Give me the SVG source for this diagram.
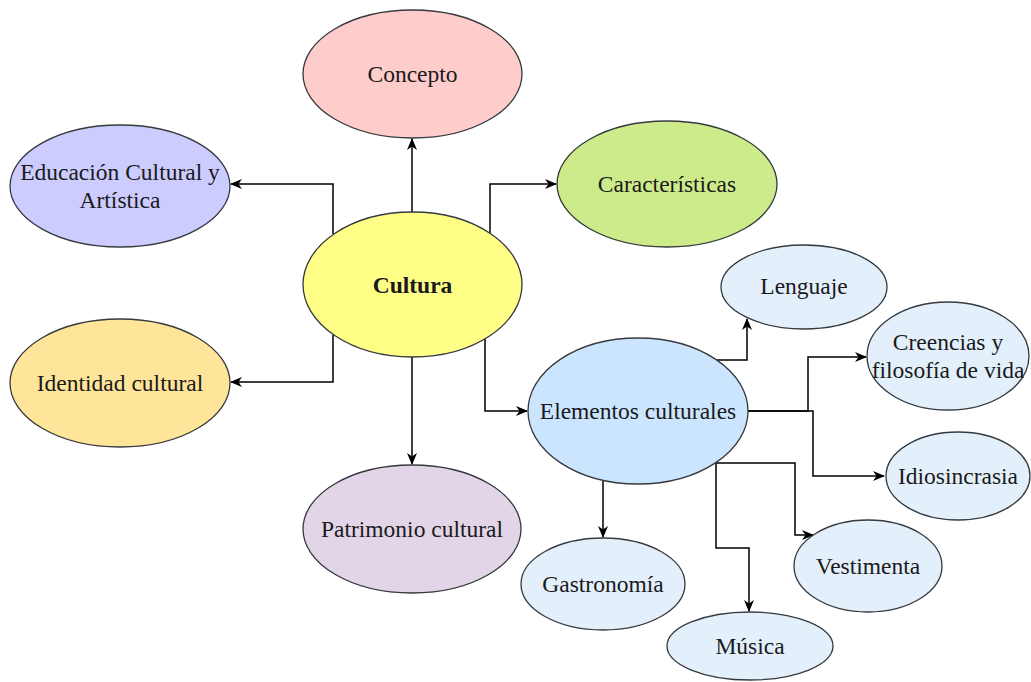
<svg xmlns="http://www.w3.org/2000/svg" width="1031" height="682" viewBox="0 0 1031 682">
<defs>
<marker id="arr" viewBox="0 0 12 12" refX="11" refY="6" markerWidth="12" markerHeight="12" markerUnits="userSpaceOnUse" orient="auto">
<path d="M0,1 L12,6 L0,11 L3.5,6 Z" fill="#000"/>
</marker>
</defs>
<style>
.n ellipse{stroke:#36393d;stroke-width:1.3}
.n text{font-family:"Liberation Serif","Times New Roman",serif;font-size:23.5px;fill:#1a1a1a;text-anchor:middle}
.c path{fill:none;stroke:#000;stroke-width:1.5;marker-end:url(#arr)}
</style>
<rect width="1031" height="682" fill="#fff"/>
<g class="c" id="connectors">
<path d="M412,212 V139"/>
<path d="M333,234 V184 H231"/>
<path d="M490,233 V184 H556"/>
<path d="M333,335 V382 H231"/>
<path d="M412,357 V464"/>
<path d="M485,339 V411 H527"/>
<path d="M717,360 H747 V319"/>
<path d="M748,411 H808 V357 H866"/>
<path d="M748,411 H813 V476 H884"/>
<path d="M603,481 V537"/>
<path d="M716,463 V548 H749 V611"/>
<path d="M716,463 H795 V535 H813"/>
</g>
<g class="n" id="concepto"><ellipse cx="412.5" cy="74" rx="109.5" ry="64" fill="#ffcccc"/><text x="412.5" y="82">Concepto</text></g>
<g class="n" id="educacion"><ellipse cx="120" cy="186" rx="110" ry="61" fill="#ccccff"/><text x="120" y="180">Educación Cultural y</text><text x="120" y="208">Artística</text></g>
<g class="n" id="caracteristicas"><ellipse cx="667" cy="184" rx="110" ry="63" fill="#cdeb8b"/><text x="667" y="192">Características</text></g>
<g class="n" id="cultura"><ellipse cx="412.5" cy="284.5" rx="109.5" ry="72.5" fill="#ffff88"/><text x="412.5" y="293" font-weight="bold">Cultura</text></g>
<g class="n" id="identidad"><ellipse cx="120" cy="383" rx="110" ry="64" fill="#ffe599"/><text x="120" y="391">Identidad cultural</text></g>
<g class="n" id="patrimonio"><ellipse cx="412" cy="529" rx="109" ry="64" fill="#e1d5e7"/><text x="412" y="537">Patrimonio cultural</text></g>
<g class="n" id="elementos"><ellipse cx="638" cy="411" rx="110" ry="73" fill="#cce5ff"/><text x="638" y="419">Elementos culturales</text></g>
<g class="n" id="lenguaje"><ellipse cx="804" cy="287" rx="83" ry="42" fill="#e3f0fc"/><text x="804" y="294">Lenguaje</text></g>
<g class="n" id="creencias"><ellipse cx="948" cy="356" rx="81" ry="54" fill="#e3f0fc"/><text x="948" y="350">Creencias y</text><text x="948" y="378">filosofía de vida</text></g>
<g class="n" id="idiosincrasia"><ellipse cx="958" cy="476" rx="72" ry="44" fill="#e3f0fc"/><text x="958" y="484">Idiosincrasia</text></g>
<g class="n" id="gastronomia"><ellipse cx="603" cy="584" rx="82" ry="46" fill="#e3f0fc"/><text x="603" y="592">Gastronomía</text></g>
<g class="n" id="musica"><ellipse cx="750" cy="646" rx="83" ry="34" fill="#e3f0fc"/><text x="750" y="654">Música</text></g>
<g class="n" id="vestimenta"><ellipse cx="868" cy="566" rx="74" ry="46" fill="#e3f0fc"/><text x="868" y="574">Vestimenta</text></g>
</svg>
